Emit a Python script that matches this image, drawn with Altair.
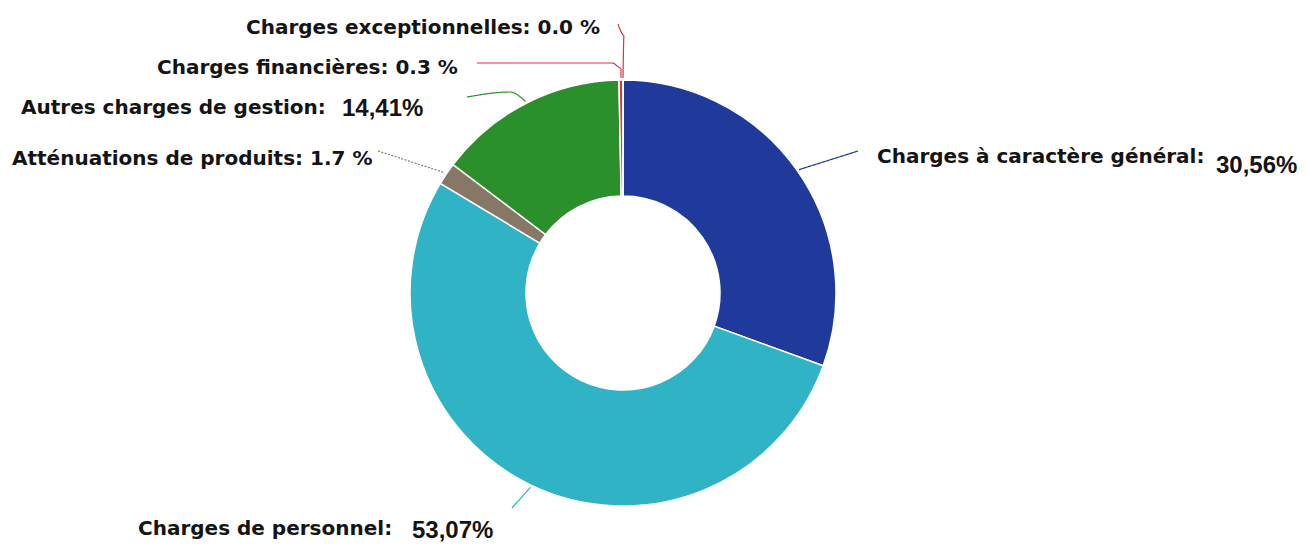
import math

import altair as alt
import pandas as pd

# Budget breakdown: share of operating expenses (%)
categories = [
    "Charges à caractère général",
    "Charges de personnel",
    "Atténuations de produits",
    "Autres charges de gestion",
    "Charges financières",
    "Charges exceptionnelles",
]
shares = [30.56, 53.07, 1.7, 14.41, 0.3, 0.0]
colors = ["#203a9c", "#31b3c6", "#877767", "#2b8f2b", "#e2313f", "#e2313f"]
# shares written as a large separate figure instead of inline in the label
big_figure = [True, True, False, True, False, False]
leader_style = ["solid", "solid", "dotted", "solid", "solid", "solid"]

# ---- layout -------------------------------------------------------------
W, H = 1309, 547
CX, CY = 623, 293
R_OUT, R_IN = 213, 97

# (left x, baseline y) of each name label
name_pos = [(877, 163), (138, 535), (12, 165), (21, 114), (157, 74), (246, 34)]
# (left x, baseline y) of the large figures
figure_pos = [(1216, 173), (412, 538), None, (342, 116), None, None]
# leader line points on the label side, ordered from the label inward
leader_tail = [
    [(858, 151)],
    [(512, 508)],
    [(378, 151)],
    [(467, 97), (510, 92)],
    [(477, 63), (612, 63), (621, 68)],
    [(618, 24), (624, 35)],
]

# ---- tables -------------------------------------------------------------
slices = pd.DataFrame({
    "idx": range(len(categories)),
    "category": categories,
    "share": shares,
})

total = sum(shares)
label_rows, figure_rows, leader_rows = [], [], []
cum = 0.0
for i, (cat, v) in enumerate(zip(categories, shares)):
    mid = (cum + v / 2) / total * 2 * math.pi
    cum += v
    # point just outside the ring at the slice's middle angle
    sx = CX + (R_OUT + 2) * math.sin(mid)
    sy = CY - (R_OUT + 2) * math.cos(mid)
    pts = list(leader_tail[i]) + [(sx, sy)]
    for k, (px, py) in enumerate(pts):
        leader_rows.append({"category": cat, "seq": k, "x": px, "y": py,
                            "style": leader_style[i]})

    nx, ny = name_pos[i]
    text = f"{cat}:" if big_figure[i] else f"{cat}: {v:.1f} %"
    label_rows.append({"x": nx, "y": ny, "text": text})
    if big_figure[i]:
        fx, fy = figure_pos[i]
        figure_rows.append({"x": fx, "y": fy,
                            "text": f"{v:.2f}%".replace(".", ",")})

labels = pd.DataFrame(label_rows)
figures = pd.DataFrame(figure_rows)
leaders = pd.DataFrame(leader_rows)

# ---- chart --------------------------------------------------------------
color_scale = alt.Scale(domain=categories, range=colors)
xs = alt.Scale(domain=[0, W], nice=False, zero=False)
ys = alt.Scale(domain=[0, H], nice=False, zero=False, reverse=True)

ring = alt.Chart(slices).mark_arc(
    innerRadius=R_IN, outerRadius=R_OUT, stroke="white", strokeWidth=1.5
).encode(
    theta=alt.Theta("share:Q", stack=True),
    order=alt.Order("idx:Q"),
    color=alt.Color("category:N", scale=color_scale, legend=None),
    x=alt.value(CX),
    y=alt.value(CY),
)

lines = alt.Chart(leaders).mark_line(strokeWidth=1.2, interpolate="monotone").encode(
    x=alt.X("x:Q", scale=xs, axis=None),
    y=alt.Y("y:Q", scale=ys, axis=None),
    detail="category:N",
    order="seq:Q",
    color=alt.Color("category:N", scale=color_scale, legend=None),
    strokeDash=alt.StrokeDash(
        "style:N",
        scale=alt.Scale(domain=["solid", "dotted"], range=[[1, 0], [2, 1.5]]),
        legend=None,
    ),
)

name_text = alt.Chart(labels).mark_text(
    align="left", baseline="alphabetic", font="DejaVu Sans",
    fontWeight="bold", fontSize=20, color="#141414",
).encode(
    x=alt.X("x:Q", scale=xs, axis=None),
    y=alt.Y("y:Q", scale=ys, axis=None),
    text="text:N",
)

figure_text = alt.Chart(figures).mark_text(
    align="left", baseline="alphabetic", font="Liberation Sans",
    fontWeight="bold", fontSize=24, color="#141414",
).encode(
    x=alt.X("x:Q", scale=xs, axis=None),
    y=alt.Y("y:Q", scale=ys, axis=None),
    text="text:N",
)

chart = alt.layer(ring, lines, name_text, figure_text).properties(
    width=W,
    height=H,
    autosize=alt.AutoSizeParams(type="none"),
    padding=0,
    background="white",
).configure_view(stroke=None)

chart.save("out.html", embed_options={"renderer": "svg", "actions": False})
